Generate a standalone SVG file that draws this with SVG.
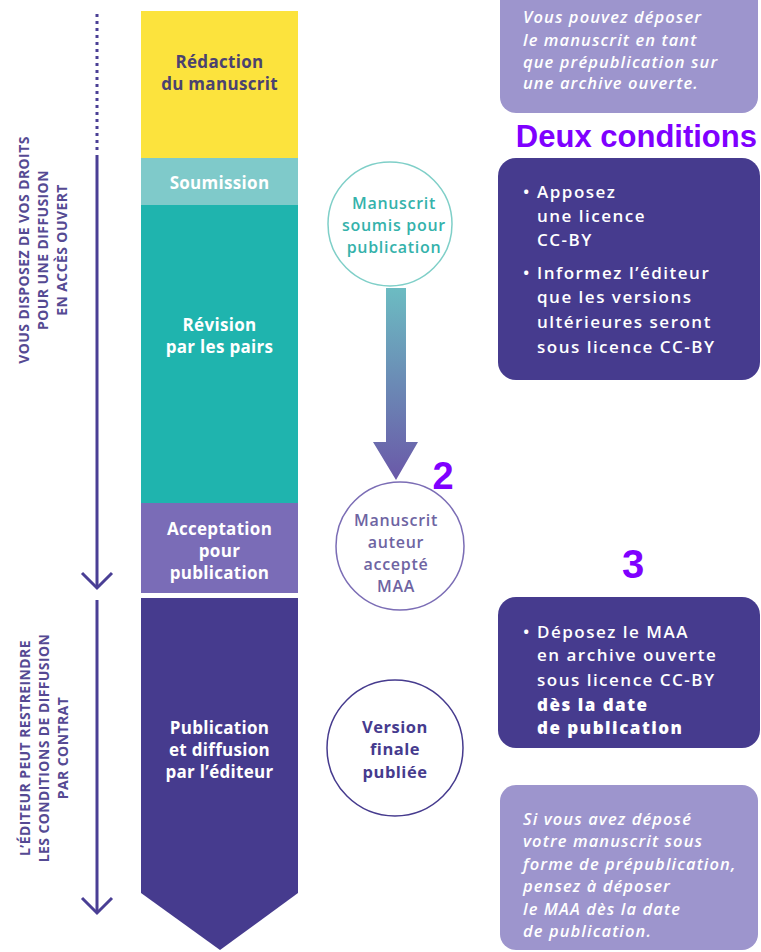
<svg xmlns="http://www.w3.org/2000/svg" width="761" height="952" viewBox="0 0 761 952">
<defs>
<linearGradient id="arrowGrad" x1="0" y1="0" x2="0" y2="1">
<stop offset="0" stop-color="#6cbcc2"/>
<stop offset="1" stop-color="#6a58a8"/>
</linearGradient>
<marker id="open" viewBox="0 0 34 34" refX="17" refY="17" markerWidth="34" markerHeight="34" markerUnits="userSpaceOnUse" orient="auto">
<path d="M2,2 L17,17 L2,32" fill="none" stroke="#4a3f95" stroke-width="3"/>
</marker>
<style>
.lbl{font-family:"Open Sans","DejaVu Sans",sans-serif;font-weight:700;font-size:17px;letter-spacing:0.3px;text-anchor:middle;fill:#ffffff}
.side{font-family:"Open Sans","DejaVu Sans",sans-serif;font-weight:700;font-size:14px;letter-spacing:0.4px;text-anchor:middle;fill:#554a93}
.circ{font-family:"Open Sans","DejaVu Sans",sans-serif;font-weight:600;font-size:16px;letter-spacing:0.7px;text-anchor:middle}
.circb{font-family:"Open Sans","DejaVu Sans",sans-serif;font-weight:700;font-size:16.5px;letter-spacing:0.5px;text-anchor:middle;fill:#463b8e}
.box{font-family:"Open Sans","DejaVu Sans",sans-serif;font-weight:600;font-size:17px;letter-spacing:1.5px;fill:#ffffff}
.ital{font-family:"Open Sans","DejaVu Sans",sans-serif;font-weight:600;font-style:italic;font-size:16.5px;letter-spacing:1.1px;fill:#ffffff}
.big{font-family:"Liberation Sans",Arial,sans-serif;font-weight:700;fill:#7f00ff}
.ln{stroke:#4a3f95;stroke-width:3;fill:none}
</style>
</defs>
<rect width="761" height="952" fill="#ffffff"/>

<g id="connectors">
<line class="ln" x1="97" y1="14" x2="97" y2="150" stroke-dasharray="3 4"/>
<line class="ln" x1="97" y1="155" x2="97" y2="588" marker-end="url(#open)"/>
<line class="ln" x1="97" y1="600" x2="97" y2="913" marker-end="url(#open)"/>
<path d="M386,288 L406,288 L406,442 L418,442 L396,480 L373,442 L386,442 Z" fill="url(#arrowGrad)"/>
</g>

<g id="side-open">
<text class="side" transform="translate(29,250) rotate(-90)">VOUS DISPOSEZ DE VOS DROITS</text>
<text class="side" transform="translate(48,250) rotate(-90)">POUR UNE DIFFUSION</text>
<text class="side" transform="translate(67,250) rotate(-90)">EN ACCÈS OUVERT</text>
</g>
<g id="side-restrict">
<text class="side" transform="translate(30,748) rotate(-90)">L’ÉDITEUR PEUT RESTREINDRE</text>
<text class="side" transform="translate(49,748) rotate(-90)">LES CONDITIONS DE DIFFUSION</text>
<text class="side" transform="translate(68,748) rotate(-90)">PAR CONTRAT</text>
</g>

<g id="redaction">
<rect x="141" y="11" width="157" height="147" fill="#fce33d"/>
<text class="lbl" x="219.5" y="68" style="fill:#4b4270">Rédaction</text>
<text class="lbl" x="219.5" y="90" style="fill:#4b4270">du manuscrit</text>
</g>
<g id="soumission">
<rect x="141" y="158" width="157" height="47" fill="#7fcaca"/>
<text class="lbl" x="219.5" y="189">Soumission</text>
</g>
<g id="revision">
<rect x="141" y="205" width="157" height="298" fill="#1fb4ae"/>
<text class="lbl" x="219.5" y="331">Révision</text>
<text class="lbl" x="219.5" y="353">par les pairs</text>
</g>
<g id="acceptation">
<rect x="141" y="503" width="157" height="90" fill="#7a6cb7"/>
<text class="lbl" x="219.5" y="535">Acceptation</text>
<text class="lbl" x="219.5" y="557">pour</text>
<text class="lbl" x="219.5" y="579">publication</text>
</g>
<g id="publication">
<path d="M141,598 L298,598 L298,893 L220,950 L141,893 Z" fill="#463b8e"/>
<text class="lbl" x="219.5" y="734">Publication</text>
<text class="lbl" x="219.5" y="756">et diffusion</text>
<text class="lbl" x="219.5" y="778">par l’éditeur</text>
</g>

<g id="circle-soumis">
<circle cx="390" cy="224" r="62" fill="#ffffff" stroke="#7fcfc8" stroke-width="1.5"/>
<text class="circ" x="394" y="209" fill="#35b2ab">Manuscrit</text>
<text class="circ" x="394" y="231" fill="#35b2ab">soumis pour</text>
<text class="circ" x="394" y="253" fill="#35b2ab">publication</text>
</g>
<g id="circle-maa">
<circle cx="400" cy="546" r="64" fill="#ffffff" stroke="#7b6db5" stroke-width="1.5"/>
<text class="circ" x="396" y="526" fill="#6e64a2">Manuscrit</text>
<text class="circ" x="396" y="548" fill="#6e64a2">auteur</text>
<text class="circ" x="396" y="570" fill="#6e64a2">accepté</text>
<text class="circ" x="396" y="592" fill="#6e64a2">MAA</text>
</g>
<g id="circle-version">
<circle cx="395" cy="748" r="68" fill="#ffffff" stroke="#463b8e" stroke-width="1.5"/>
<text class="circb" x="395" y="733">Version</text>
<text class="circb" x="395" y="755">finale</text>
<text class="circb" x="395" y="778">publiée</text>
</g>

<g id="label-2"><text class="big" x="443" y="489" font-size="38" text-anchor="middle">2</text></g>
<g id="label-deux"><text class="big" x="757" y="147" font-size="31" text-anchor="end">Deux conditions</text></g>
<g id="label-3"><text class="big" x="633" y="578" font-size="40" text-anchor="middle">3</text></g>

<g id="box-preprint">
<rect x="500" y="-30" width="258" height="143" rx="16" fill="#9d95cd"/>
<text class="ital" x="523" y="23">Vous pouvez déposer</text>
<text class="ital" x="523" y="46">le manuscrit en tant</text>
<text class="ital" x="523" y="68">que prépublication sur</text>
<text class="ital" x="523" y="89">une archive ouverte.</text>
</g>
<g id="box-conditions">
<rect x="498" y="158" width="262" height="222" rx="18" fill="#463b8e"/>
<text class="box" x="523" y="198">•</text>
<text class="box" x="537" y="198">Apposez</text>
<text class="box" x="537" y="222">une licence</text>
<text class="box" x="537" y="246">CC-BY</text>
<text class="box" x="523" y="279">•</text>
<text class="box" x="537" y="279">Informez l’éditeur</text>
<text class="box" x="537" y="303">que les versions</text>
<text class="box" x="537" y="328">ultérieures seront</text>
<text class="box" x="537" y="353">sous licence CC-BY</text>
</g>
<g id="box-maa">
<rect x="498" y="597" width="262" height="151" rx="18" fill="#463b8e"/>
<text class="box" x="523" y="638">•</text>
<text class="box" x="537" y="638">Déposez le MAA</text>
<text class="box" x="537" y="661">en archive ouverte</text>
<text class="box" x="537" y="686">sous licence CC-BY</text>
<text class="box" x="537" y="711" style="font-weight:800">dès la date</text>
<text class="box" x="537" y="734" style="font-weight:800">de publication</text>
</g>
<g id="box-reminder">
<rect x="500" y="785" width="258" height="165" rx="16" fill="#9d95cd"/>
<text class="ital" x="523" y="825">Si vous avez déposé</text>
<text class="ital" x="523" y="847">votre manuscrit sous</text>
<text class="ital" x="523" y="870">forme de prépublication,</text>
<text class="ital" x="523" y="892">pensez à déposer</text>
<text class="ital" x="523" y="915">le MAA dès la date</text>
<text class="ital" x="523" y="937">de publication.</text>
</g>
</svg>
